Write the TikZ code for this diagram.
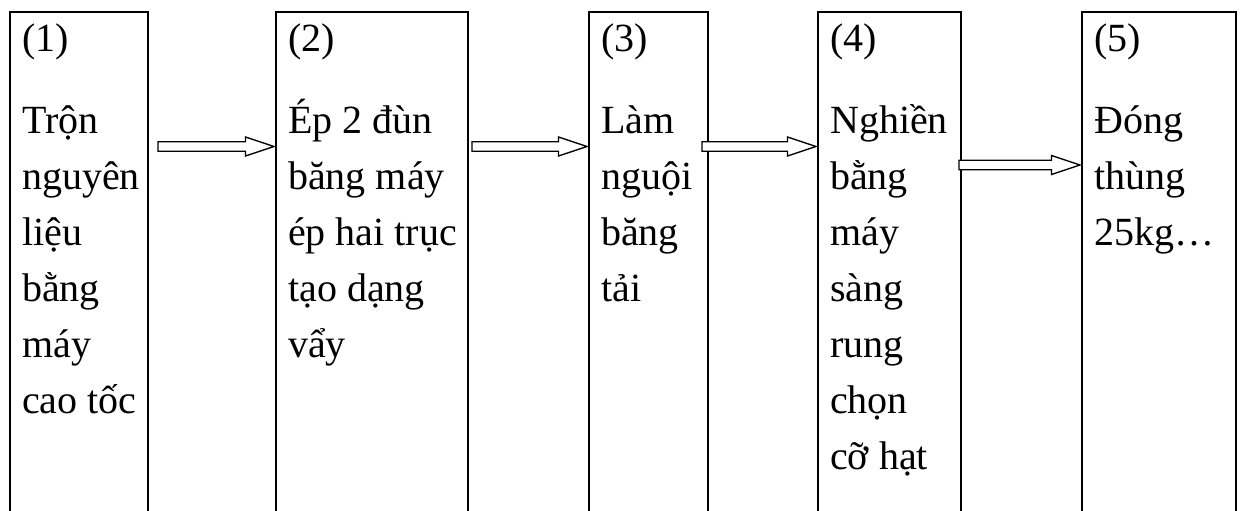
\documentclass[tikz,border=0pt]{standalone}
\usepackage{fontspec}
\setmainfont{Liberation Serif}
\usetikzlibrary{calc}
\tikzset{
  stage/.style={rectangle, draw=none, inner sep=0pt, outer sep=0pt, anchor=north west, minimum height=499pt},
  stageline/.style={line width=2.2pt},
  flowarrow/.style={line width=1.4pt, fill=white, line join=miter},
  numlabel/.style={anchor=base west, inner sep=0pt, font=\fontsize{40}{56}\selectfont},
  bodytext/.style={anchor=north west, inner sep=0pt, align=left, font=\fontsize{40}{56}\selectfont},
}
\newcommand{\blockarrow}[2]{%
  \draw[flowarrow] let \p1=(#1), \p2=(#2.west) in
    (\x1,\y1-4.75pt) -- (\x2-30.5pt,\y1-4.75pt) -- (\x2-30.5pt,\y1-9.5pt) -- (\x2-2pt,\y1)
    -- (\x2-30.5pt,\y1+9.5pt) -- (\x2-30.5pt,\y1+4.75pt) -- (\x1,\y1+4.75pt) -- cycle;}
\newcommand{\openbox}[1]{%
  \draw[stageline] (#1.south west) -- (#1.north west) -- (#1.north east) -- (#1.south east);}
\begin{document}
\begin{tikzpicture}[x=1pt,y=-1pt]
\useasboundingbox (0,0) rectangle (1240,511);
\fill[white] (0,0) rectangle (1240,511);

\node[stage, minimum width=138pt] (b1) at (10,12) {};
\node[stage, minimum width=192pt] (b2) at (276,12) {};
\node[stage, minimum width=119pt] (b3) at (589,12) {};
\node[stage, minimum width=143pt] (b4) at (818,12) {};
\node[stage, minimum width=154pt] (b5) at (1082,12) {};
\openbox{b1}\openbox{b2}\openbox{b3}\openbox{b4}\openbox{b5}

\node[numlabel] (n1) at (22,52) {(1)};
\node[numlabel] (n2) at (288,52) {(2)};
\node[numlabel] (n3) at (601,52) {(3)};
\node[numlabel] (n4) at (830,52) {(4)};
\node[numlabel] (n5) at (1094,52) {(5)};

\node[bodytext] (t1) at (22,93.8) {\strut Trộn\\nguyên\\liệu\\bằng\\máy\\cao tốc};
\node[bodytext] (t2) at (288,93.8) {\strut Ép 2 đùn\\băng máy\\ép hai trục\\tạo dạng\\vẩy};
\node[bodytext] (t3) at (601,93.8) {\strut Làm\\nguội\\băng\\tải};
\node[bodytext] (t4) at (830,93.8) {\strut Nghiền\\bằng\\máy\\sàng\\rung\\chọn\\cỡ hạt};
\node[bodytext] (t5) at (1094,93.8) {\strut Đóng\\thùng\\25kg…};

\coordinate (a1s) at (158,146.5);
\coordinate (a2s) at (472,146.5);
\coordinate (a3s) at (702,146.5);
\coordinate (a4s) at (959,165);
\blockarrow{a1s}{b2}
\blockarrow{a2s}{b3}
\blockarrow{a3s}{b4}
\blockarrow{a4s}{b5}
\end{tikzpicture}
\end{document}
